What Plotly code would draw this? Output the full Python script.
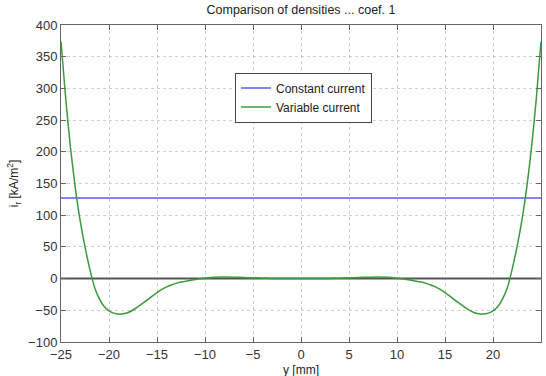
import plotly.graph_objects as go

y_mm = [-25, -24.5, -24, -23.5, -23, -22.5, -22, -21.5, -21, -20.5, -20, -19.5, -19,
        -18.5, -18, -17.5, -17, -16.5, -16, -15.5, -15, -14.5, -14, -13.5, -13, -12.5,
        -12, -11, -10, -9, -8, -7, -6, -5, -4, -3, -2, -1, 0,
        1, 2, 3, 4, 5, 6, 7, 8, 9, 10, 11, 12, 12.5, 13, 13.5, 14, 14.5, 15, 15.5,
        16, 16.5, 17, 17.5, 18, 18.5, 19, 19.5, 20, 20.5, 21, 21.5, 22, 22.5, 23,
        23.5, 24, 24.5, 25]
variable_current = [374, 282, 205, 142, 91, 50, 15, -14, -32, -44, -51, -54.5, -56,
                    -55.5, -53.5, -49.5, -44.5, -39, -33.5, -27.5, -22, -17, -13, -10,
                    -7.5, -5.5, -4, -1.5, 0.5, 2, 2.5, 2.3, 1.7, 1.1, 0.6, 0.25, 0.05,
                    0, 0,
                    0, 0.05, 0.25, 0.6, 1.1, 1.7, 2.3, 2.5, 2, 0.5, -1.5, -4, -5.5,
                    -7.5, -10, -13, -17, -22, -27.5, -33.5, -39, -44.5, -49.5, -53.5,
                    -55.5, -56, -54.5, -51, -44, -32, -14, 15, 50, 91, 142, 205, 282,
                    374]
const_x = [-25, 25]
const_val = [127, 127]
zero_x = [-25, 25]
zero_val = [0, 0]

x_ticks = [-25, -20, -15, -10, -5, 0, 5, 10, 15, 20, 25]
y_ticks = [-100, -50, 0, 50, 100, 150, 200, 250, 300, 350, 400]

FONT = "Liberation Sans, Arial"

fig = go.Figure()
fig.add_trace(go.Scatter(x=zero_x, y=zero_val, mode="lines",
                         line=dict(color="#555555", width=2), showlegend=False,
                         hoverinfo="skip"))
fig.add_trace(go.Scatter(x=const_x, y=const_val, mode="lines", name="Constant current",
                         line=dict(color="#5b5bf0", width=1.5)))
fig.add_trace(go.Scatter(x=y_mm, y=variable_current, mode="lines", name="Variable current",
                         line=dict(color="#3c9a3c", width=1.5, shape="spline", smoothing=0.6)))

axis_common = dict(showgrid=True, gridcolor="#cfcfcf", griddash="dot", gridwidth=1,
                   zeroline=False, showline=True, linecolor="#666666", linewidth=1,
                   mirror="ticks", ticks="inside", ticklen=5, tickcolor="#666666",
                   tickfont=dict(family=FONT, size=13, color="#333333"))

fig.update_layout(
    width=546, height=376,
    margin=dict(l=61, r=5, t=25, b=34, autoexpand=False),
    paper_bgcolor="white", plot_bgcolor="white",
    title=dict(text="Comparison of densities ... coef. 1", x=0.5, xref="paper",
               y=0.985, yref="container", yanchor="top",
               font=dict(family=FONT, size=12.5, color="#222222")),
    xaxis=dict(range=[-25, 25], tickvals=x_ticks, **axis_common, automargin=False),
    yaxis=dict(range=[-100, 400], tickvals=y_ticks, **axis_common, automargin=False,
               title=dict(text="i<sub>r</sub> [kA/m<sup>2</sup>]", standoff=6,
                          font=dict(family=FONT, size=12, color="#222222"))),
    legend=dict(x=0.3625, y=0.85, xanchor="left", yanchor="top",
                bordercolor="#444444", borderwidth=1, bgcolor="white",
                itemwidth=30, tracegroupgap=0,
                font=dict(family=FONT, size=12, color="#222222")),
    showlegend=True,
    annotations=[dict(text="y [mm]", xref="paper", yref="paper", x=0.5, y=-0.088,
                      xanchor="center", yanchor="middle", showarrow=False,
                      font=dict(family=FONT, size=12, color="#222222"))],
)

fig.write_html("out.html", config={"displayModeBar": False},
               post_script="document.body.style.margin='0';document.body.style.overflow='hidden';")
